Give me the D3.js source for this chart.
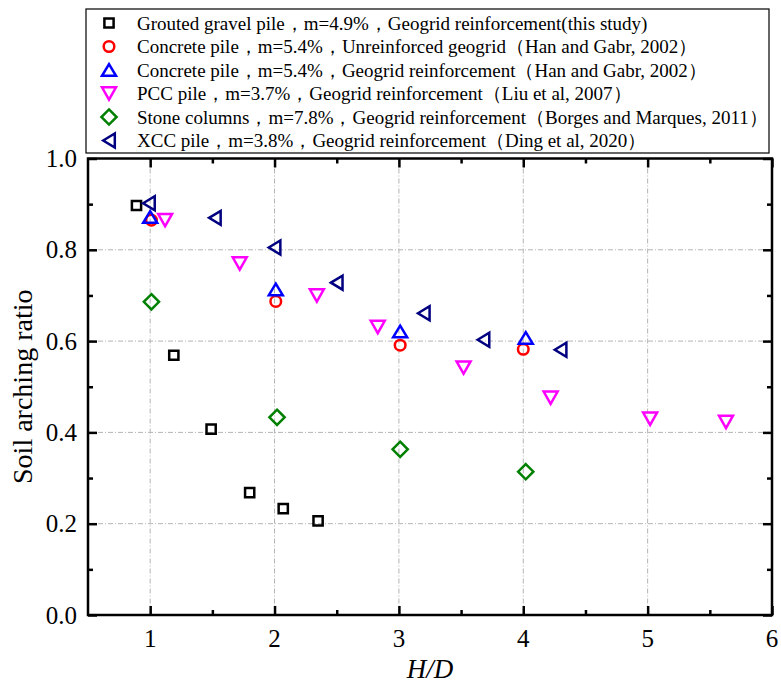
<!DOCTYPE html>
<html>
	<head>
		<meta charset="UTF-8">
		<style>
			body {
				margin: 0;
				background-color: white;
				font-family: 'Liberation Serif', 'Times New Roman', serif;
			}
			.grid line {
				stroke: #b4b4b4;
				stroke-width: 1;
				stroke-dasharray: 5, 2, 1, 2;
			}
			.ticklabel {
				font-size: 25px;
			}
			.legend_label {
				font-size: 19px;
			}
		</style>
		<title>Soil arching ratio vs H/D</title>
	</head>
	<body>
		<svg width="781" height="685"></svg>
		<script src="https://cdn.jsdelivr.net/npm/d3@7"></script>
		<script>

		// values
		let groutedX = [0.89, 1.19, 1.49, 1.80, 2.07, 2.35];
		let groutedY = [0.897, 0.569, 0.407, 0.268, 0.233, 0.206];

		let hanUnreinfX = [1.01, 2.01, 3.01, 4.00];
		let hanUnreinfY = [0.865, 0.687, 0.591, 0.582];

		let hanReinfX = [1.00, 2.01, 3.01, 4.02];
		let hanReinfY = [0.872, 0.713, 0.621, 0.607];

		let liuX = [1.12, 1.72, 2.34, 2.83, 3.52, 4.22, 5.02, 5.63];
		let liuY = [0.865, 0.770, 0.700, 0.631, 0.542, 0.476, 0.430, 0.423];

		let borgesX = [1.01, 2.02, 3.01, 4.02];
		let borgesY = [0.686, 0.433, 0.363, 0.314];

		let dingX = [0.99, 1.52, 2.00, 2.50, 3.20, 3.68, 4.30];
		let dingY = [0.902, 0.870, 0.805, 0.728, 0.661, 0.603, 0.581];

		let legendNames = [
			"Grouted gravel pile，m=4.9%，Geogrid reinforcement(this study)",
			"Concrete pile，m=5.4%，Unreinforced geogrid（Han and Gabr, 2002）",
			"Concrete pile，m=5.4%，Geogrid reinforcement（Han and Gabr, 2002）",
			"PCC pile，m=3.7%，Geogrid reinforcement（Liu et al, 2007）",
			"Stone columns，m=7.8%，Geogrid reinforcement（Borges and Marques, 2011）",
			"XCC pile，m=3.8%，Geogrid reinforcement（Ding et al, 2020）"
		];

		let xTicks = [1, 2, 3, 4, 5, 6];
		let yTicks = [0.0, 0.2, 0.4, 0.6, 0.8, 1.0];

		let series = [
			{name: legendNames[0], xs: groutedX, ys: groutedY, shape: "square", color: "#000000"},
			{name: legendNames[1], xs: hanUnreinfX, ys: hanUnreinfY, shape: "circle", color: "#ff0000"},
			{name: legendNames[2], xs: hanReinfX, ys: hanReinfY, shape: "up", color: "#0000ff"},
			{name: legendNames[3], xs: liuX, ys: liuY, shape: "down", color: "#ff00ff"},
			{name: legendNames[4], xs: borgesX, ys: borgesY, shape: "diamond", color: "#008000"},
			{name: legendNames[5], xs: dingX, ys: dingY, shape: "left", color: "#000080"}
		];

		let plotLeft = 88, plotRight = 772, plotTop = 158.5, plotBottom = 615;

		let svg = d3.select("svg");

		let x = d3.scaleLinear().domain([0.5, 6]).range([plotLeft, plotRight]);
		let y = d3.scaleLinear().domain([0, 1]).range([plotBottom, plotTop]);

		// marker outlines, centred on 0,0
		function markerPath(shape) {
			let p = d3.path();
			if (shape == "square") {
				p.rect(-4.6, -4.6, 9.2, 9.2);
			} else if (shape == "circle") {
				p.arc(0, 0, 5.3, 0, 2 * Math.PI);
			} else if (shape == "up") {
				p.moveTo(0, -5.8); p.lineTo(7, 5.8); p.lineTo(-7, 5.8); p.closePath();
			} else if (shape == "down") {
				p.moveTo(-7, -6.2); p.lineTo(7, -6.2); p.lineTo(0, 6.2); p.closePath();
			} else if (shape == "diamond") {
				p.moveTo(0, -7.6); p.lineTo(7.6, 0); p.lineTo(0, 7.6); p.lineTo(-7.6, 0); p.closePath();
			} else if (shape == "left") {
				p.moveTo(-5.8, 0); p.lineTo(5.8, -7); p.lineTo(5.8, 7); p.closePath();
			}
			return p.toString();
		}

		// grid
		let grid = svg.append("g").attr("class", "grid");
		grid.selectAll(".gx")
			.data([1, 2, 3, 4, 5])
			.enter()
			.append("line")
			.attr("x1", d => x(d)).attr("x2", d => x(d))
			.attr("y1", plotTop).attr("y2", plotBottom);
		grid.selectAll(".gy")
			.data([0.2, 0.4, 0.6, 0.8])
			.enter()
			.append("line")
			.attr("x1", plotLeft).attr("x2", plotRight)
			.attr("y1", d => y(d)).attr("y2", d => y(d));

		// axes, ticks inward on all four sides
		let xMinor = [1.5, 2.5, 3.5, 4.5, 5.5];
		let yMinor = [0.1, 0.3, 0.5, 0.7, 0.9];

		svg.append("g")
			.attr("transform", "translate(0," + plotBottom + ")")
			.call(d3.axisTop(x).tickValues(xTicks).tickSize(9).tickFormat(""));
		svg.append("g")
			.attr("transform", "translate(0," + plotBottom + ")")
			.call(d3.axisTop(x).tickValues(xMinor).tickSize(5).tickFormat(""));
		svg.append("g")
			.attr("transform", "translate(0," + plotTop + ")")
			.call(d3.axisBottom(x).tickValues(xTicks).tickSize(9).tickFormat(""));
		svg.append("g")
			.attr("transform", "translate(0," + plotTop + ")")
			.call(d3.axisBottom(x).tickValues(xMinor).tickSize(5).tickFormat(""));
		svg.append("g")
			.attr("transform", "translate(" + plotLeft + ",0)")
			.call(d3.axisRight(y).tickValues(yTicks).tickSize(9).tickFormat(""));
		svg.append("g")
			.attr("transform", "translate(" + plotLeft + ",0)")
			.call(d3.axisRight(y).tickValues(yMinor).tickSize(5).tickFormat(""));
		svg.append("g")
			.attr("transform", "translate(" + plotRight + ",0)")
			.call(d3.axisLeft(y).tickValues(yTicks).tickSize(9).tickFormat(""));
		svg.append("g")
			.attr("transform", "translate(" + plotRight + ",0)")
			.call(d3.axisLeft(y).tickValues(yMinor).tickSize(5).tickFormat(""));

		svg.selectAll(".domain").remove();
		svg.selectAll(".tick line").attr("stroke", "black").attr("stroke-width", 2.5);

		svg.append("rect")
			.attr("x", plotLeft).attr("y", plotTop)
			.attr("width", plotRight - plotLeft).attr("height", plotBottom - plotTop)
			.attr("fill", "none")
			.attr("stroke", "black")
			.attr("stroke-width", 2.5);

		// tick labels
		svg.append("g")
			.selectAll("text")
			.data(xTicks)
			.enter()
			.append("text")
			.attr("class", "ticklabel")
			.attr("x", d => x(d))
			.attr("y", 647)
			.attr("text-anchor", "middle")
			.text(d => d);

		svg.append("g")
			.selectAll("text")
			.data(yTicks)
			.enter()
			.append("text")
			.attr("class", "ticklabel")
			.attr("x", 77)
			.attr("y", d => y(d))
			.attr("dy", "0.34em")
			.attr("text-anchor", "end")
			.text(d => d.toFixed(1));

		// axis titles
		svg.append("text")
			.attr("transform", "translate(32," + ((plotTop + plotBottom) / 2) + ") rotate(-90)")
			.attr("text-anchor", "middle")
			.style("font-size", "28px")
			.text("Soil arching ratio");

		svg.append("text")
			.attr("x", (plotLeft + plotRight) / 2)
			.attr("y", 678)
			.attr("text-anchor", "middle")
			.style("font-size", "27px")
			.style("font-style", "italic")
			.text("H/D");

		// points
		series.forEach(s => {
			let pts = s.xs.map((v, i) => [v, s.ys[i]]);
			svg.append("g")
				.selectAll("path")
				.data(pts)
				.enter()
				.append("path")
				.attr("d", markerPath(s.shape))
				.attr("transform", d => "translate(" + x(d[0]) + "," + y(d[1]) + ")")
				.attr("fill", "none")
				.attr("stroke", s.color)
				.attr("stroke-width", 2.5);
		});

		// legend
		let legend = svg.append("g");
		legend.append("rect")
			.attr("x", 86).attr("y", 9)
			.attr("width", 683).attr("height", 144)
			.attr("fill", "white")
			.attr("stroke", "black")
			.attr("stroke-width", 1.2);

		let rows = legend.selectAll(".row")
			.data(series)
			.enter()
			.append("g")
			.attr("transform", (d, i) => "translate(0," + (23 + i * 23.5) + ")");

		rows.append("path")
			.attr("d", d => markerPath(d.shape))
			.attr("transform", "translate(109,0)")
			.attr("fill", "none")
			.attr("stroke", d => d.color)
			.attr("stroke-width", 2.5);

		rows.append("text")
			.attr("class", "legend_label")
			.attr("x", 137)
			.attr("dy", "0.35em")
			.text(d => d.name);

		</script>
	</body>
</html>
